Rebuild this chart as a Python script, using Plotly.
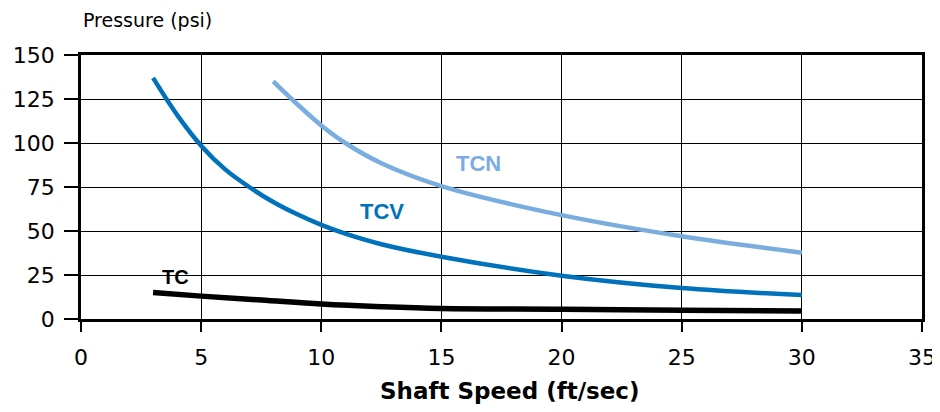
import plotly.graph_objects as go

# pressure vs shaft speed
tc_x = [3, 5, 7.5, 10, 12.5, 15, 20, 25, 30]
tc_y = [15, 13, 10.8, 8.5, 7, 6, 5.6, 5, 4.6]

tcv_x = [3, 4, 5, 6, 7, 8, 9, 10, 11, 12.5, 15, 20, 25, 30]
tcv_y = [137, 116, 98.5, 85, 75, 66.5, 59.5, 53.5, 48.5, 42.5, 35.4, 24.6, 17.6, 13.6]

tcn_x = [8, 9, 10, 11, 12.5, 15, 20, 25, 30]
tcn_y = [135, 122, 110, 100, 88.5, 75.5, 59, 47, 37.7]

font = "DejaVu Sans"
blue = "#0072bc"
light = "#7aaddf"

fig = go.Figure()
fig.add_trace(go.Scatter(x=tc_x, y=tc_y, mode="lines", line=dict(color="black", width=5.5, shape="spline")))
fig.add_trace(go.Scatter(x=tcv_x, y=tcv_y, mode="lines", line=dict(color=blue, width=4.5, shape="spline")))
fig.add_trace(go.Scatter(x=tcn_x, y=tcn_y, mode="lines", line=dict(color=light, width=4.5, shape="spline")))

# curve labels
fig.add_annotation(x=3.93, y=23.6, text="<b>TC</b>", showarrow=False,
                   font=dict(family="Liberation Sans", size=20, color="black"))
fig.add_annotation(x=12.53, y=61.2, text="<b>TCV</b>", showarrow=False,
                   font=dict(family="Liberation Sans", size=22, color=blue))
fig.add_annotation(x=16.54, y=88.6, text="<b>TCN</b>", showarrow=False,
                   font=dict(family="Liberation Sans", size=22, color=light))

# axis titles placed by hand
fig.add_annotation(xref="paper", yref="paper", x=0, y=1 + 35 / 264, xanchor="left", yanchor="middle",
                   text="Pressure (psi)", showarrow=False, font=dict(family=font, size=19, color="black"))
fig.add_annotation(xref="x", yref="paper", x=17.85, y=-72 / 264, xanchor="center", yanchor="middle",
                   text="<b>Shaft Speed (ft/sec)</b>", showarrow=False,
                   font=dict(family=font, size=23, color="black"))

fig.update_xaxes(range=[0, 35], dtick=5, tick0=0, showgrid=True, gridcolor="black", gridwidth=1.3,
                 showline=True, linecolor="black", linewidth=2.5, mirror=True,
                 ticks="outside", ticklen=10, tickwidth=1.5, tickcolor="black", ticklabelstandoff=7,
                 tickfont=dict(family=font, size=22, color="black"), zeroline=False)
fig.update_yaxes(range=[0, 150], dtick=25, tick0=0, showgrid=True, gridcolor="black", gridwidth=1.3,
                 showline=True, linecolor="black", linewidth=2.5, mirror=True,
                 ticks="outside", ticklen=14, tickwidth=1.5, tickcolor="black", ticklabelstandoff=5,
                 tickfont=dict(family=font, size=22, color="black"), zeroline=False)

# page body adds an 8px offset, so the figure is a bit smaller than the window
fig.update_layout(width=932, height=404, showlegend=False, plot_bgcolor="white", paper_bgcolor="white",
                  margin=dict(l=73, r=18, t=47, b=93, autoexpand=False))

fig.write_html("out.html")
